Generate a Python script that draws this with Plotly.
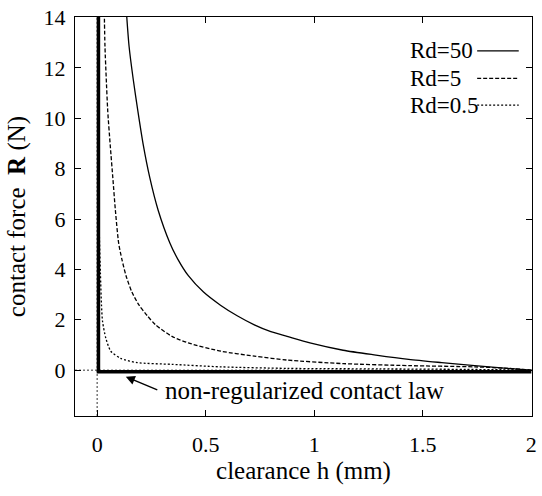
import plotly.graph_objects as go

# ---- data ----
h_rd50 = [0.135, 0.147, 0.166, 0.188, 0.212, 0.242, 0.281, 0.335, 0.372, 0.42, 0.49, 0.568, 0.645,
          0.724, 0.80, 0.875, 0.98, 1.133, 1.284, 1.435, 1.587, 1.739, 1.875, 2.0]
R_rd50 = [14.2, 12.86, 11.56, 10.26, 8.96, 7.66, 6.35, 5.05, 4.4, 3.75, 3.1, 2.58, 2.16,
          1.80, 1.53, 1.34, 1.08, 0.79, 0.60, 0.43, 0.30, 0.18, 0.08, 0.0]

h_rd5 = [0.033, 0.036, 0.042, 0.049, 0.06, 0.072, 0.084, 0.099, 0.114, 0.133, 0.16, 0.193, 0.231,
         0.269, 0.345, 0.42, 0.572, 0.724, 0.875, 1.133, 1.435, 1.739, 1.875, 2.0]
R_rd5 = [14.2, 12.86, 11.56, 10.26, 8.96, 7.66, 6.35, 5.05, 4.4, 3.75, 3.1, 2.58, 2.16,
         1.80, 1.34, 1.08, 0.75, 0.56, 0.40, 0.26, 0.18, 0.13, 0.08, 0.0]

h_rd05 = [0.002, 0.006, 0.015, 0.02, 0.025, 0.04, 0.063, 0.108, 0.184, 0.345, 0.572, 0.875, 1.3, 1.7, 2.0]
R_rd05 = [14.2, 7.0, 3.87, 2.58, 1.93, 1.27, 0.75, 0.47, 0.30, 0.23, 0.13, 0.07, 0.05, 0.03, 0.0]

h_nonreg = [0.006, 0.006, 2.0]
R_nonreg = [14.2, -0.06, -0.06]

legend_labels = ["Rd=50", "Rd=5", "Rd=0.5"]
x_ticks = [0, 0.5, 1, 1.5, 2]
x_tick_labels = ["0", "0.5", "1", "1.5", "2"]
y_ticks = [0, 2, 4, 6, 8, 10, 12, 14]
y_tick_labels = ["0", "2", "4", "6", "8", "10", "12", "14"]

FONT = "Liberation Serif"
styles = [
    dict(color="black", width=1.3, dash="solid"),
    dict(color="black", width=1.3, dash="4px,2px"),
    dict(color="black", width=1.3, dash="2px,2px"),
]

fig = go.Figure()

# non-regularized contact law (thick)
fig.add_trace(go.Scatter(x=h_nonreg, y=R_nonreg, mode="lines",
                         line=dict(color="black", width=3.5), showlegend=False,
                         hoverinfo="skip"))

for hx, ry, st in zip([h_rd50, h_rd5, h_rd05], [R_rd50, R_rd5, R_rd05], styles):
    fig.add_trace(go.Scatter(x=hx, y=ry, mode="lines",
                             line=dict(color=st["color"], width=st["width"], dash=st["dash"],
                                       shape="spline", smoothing=0.7),
                             showlegend=False))

# dotted zero axes
fig.add_shape(type="line", xref="paper", yref="y", x0=0, x1=1, y0=0, y1=0,
              line=dict(color="#333", width=1, dash="2px,2px"), layer="below")
fig.add_shape(type="line", xref="x", yref="paper", x0=0, x1=0, y0=0, y1=1,
              line=dict(color="#333", width=1, dash="2px,2px"), layer="below")

# custom gnuplot-style key (text, then sample)
key_y = [0.915, 0.846, 0.779]
for lab, ky, st in zip(legend_labels, key_y, styles):
    fig.add_annotation(xref="paper", yref="paper", x=0.728, y=ky, text=lab,
                       showarrow=False, xanchor="left", yanchor="middle",
                       font=dict(family=FONT, size=23, color="black"))
    fig.add_shape(type="line", xref="paper", yref="paper", x0=0.880, x1=0.971,
                  y0=ky, y1=ky, line=dict(color="black", width=1.3, dash=st["dash"]))

# arrow + label
fig.add_annotation(x=0.132, y=-0.26, ax=0.284, ay=-0.81, axref="x", ayref="y",
                   xref="x", yref="y", text="", showarrow=True, arrowhead=2,
                   arrowsize=1.3, arrowwidth=1.4, arrowcolor="black", standoff=0)
fig.add_annotation(x=0.305, y=-0.80, xref="x", yref="y", text="non-regularized contact law",
                   showarrow=False, xanchor="left", yanchor="middle",
                   font=dict(family=FONT, size=25, color="black"))

fig.update_layout(
    width=542, height=496,
    margin=dict(l=75, r=5, t=11, b=80),
    paper_bgcolor="white", plot_bgcolor="white",
    font=dict(family=FONT, color="black"),
    showlegend=False,
)
fig.update_xaxes(range=[-0.102, 2.003], tickvals=x_ticks, ticktext=x_tick_labels,
                 ticks="inside", ticklen=6, tickwidth=1, tickcolor="black",
                 showline=True, linecolor="black", linewidth=1.2, mirror="ticks",
                 showgrid=False, zeroline=False, ticklabelstandoff=8,
                 ticklabeloverflow="allow",
                 tickfont=dict(family=FONT, size=22, color="black"),
                 title=dict(text="clearance h (mm)", standoff=4,
                            font=dict(family=FONT, size=25, color="black")))
fig.update_yaxes(range=[-1.82, 14.02], tickvals=y_ticks, ticktext=y_tick_labels,
                 ticks="inside", ticklen=6, tickwidth=1, tickcolor="black",
                 showline=True, linecolor="black", linewidth=1.2, mirror="ticks",
                 showgrid=False, zeroline=False, ticklabelstandoff=4,
                 ticklabeloverflow="allow",
                 tickfont=dict(family=FONT, size=22, color="black"),
                 title=dict(text="contact force  <b>R</b> (N)", standoff=10,
                            font=dict(family=FONT, size=25, color="black")))

fig.write_html("out.html")
